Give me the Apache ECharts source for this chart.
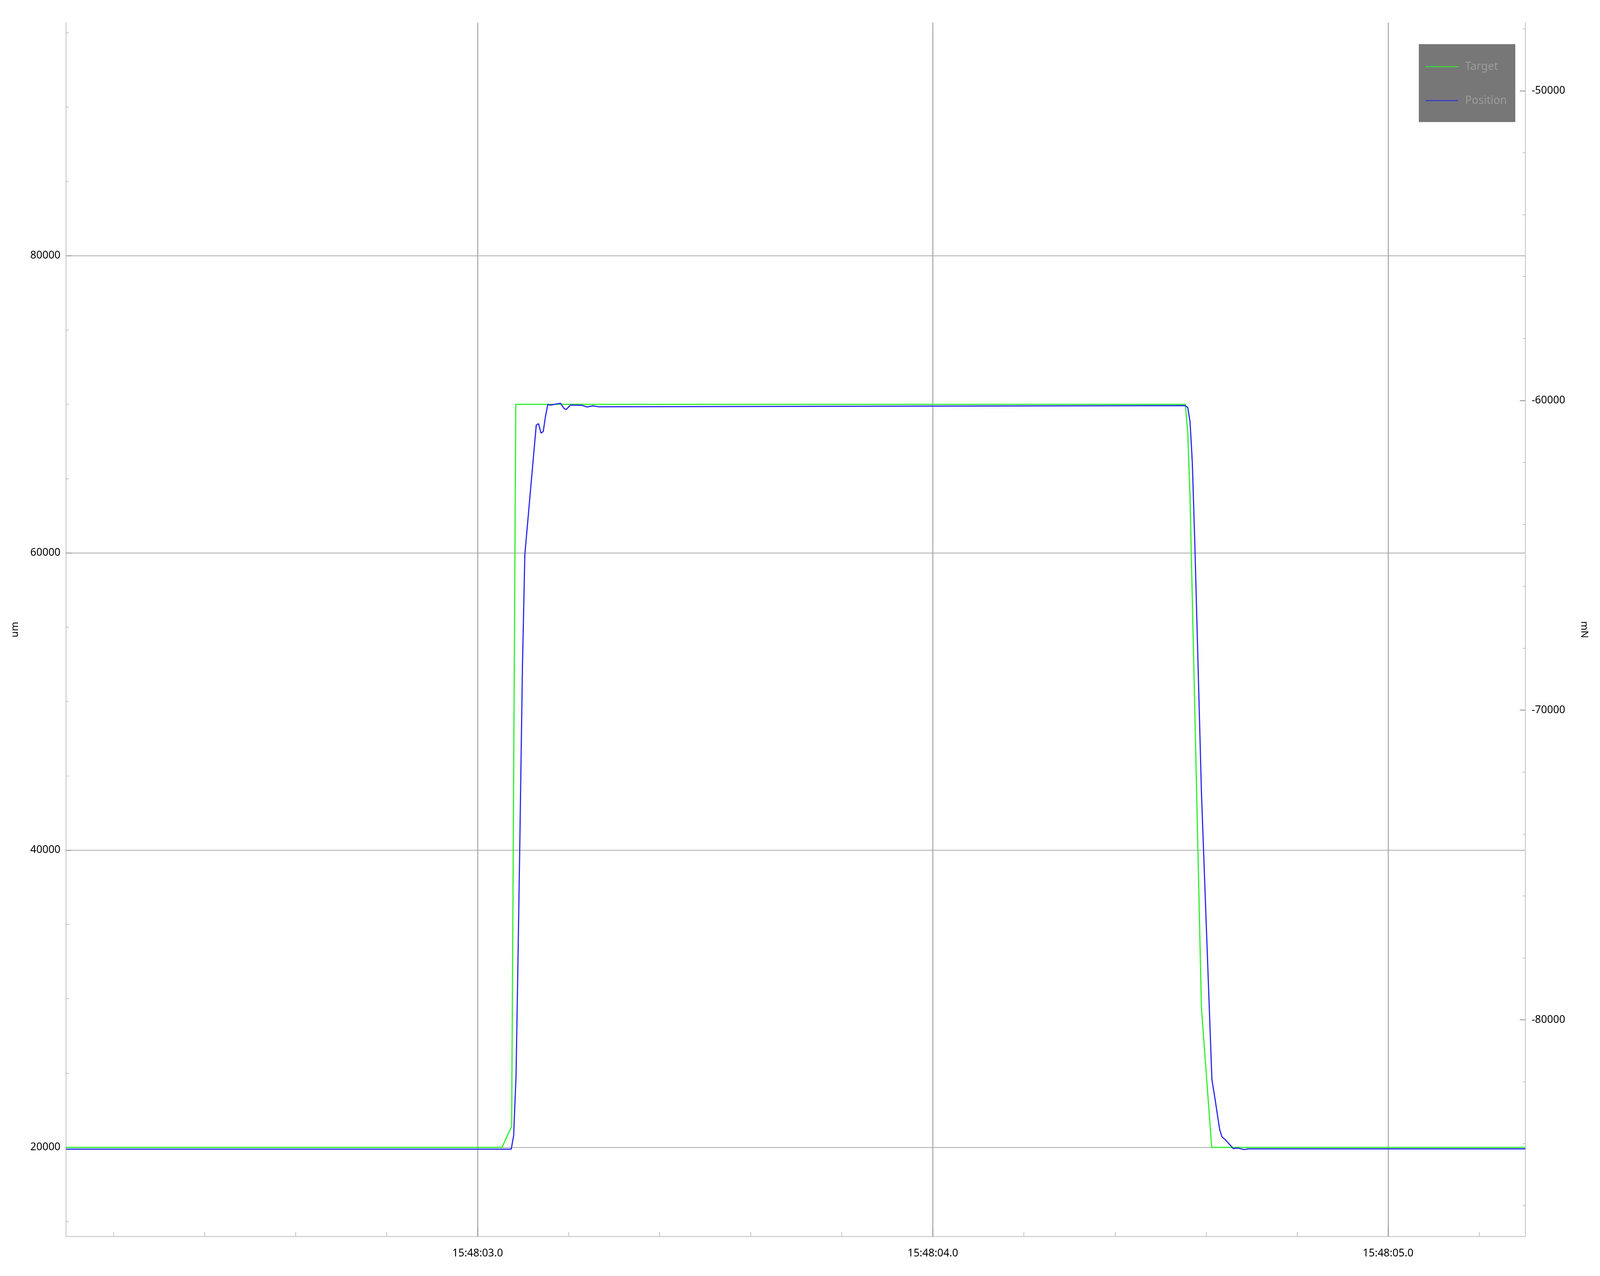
<!DOCTYPE html>
<html>
<head>
<meta charset="utf-8">
<script src="https://cdn.jsdelivr.net/npm/echarts@6/dist/echarts.min.js"></script>
<style>
html,body{margin:0;padding:0;background:#ffffff;overflow:hidden;}
#chart{width:100vw;height:100vh;}
</style>
</head>
<body>
<div id="chart"></div>
<script>
// ---- data (time = seconds after 15:48:00) ----
const targetTime  = [2.0957, 3.0536, 3.0747, 3.0838, 4.5545, 4.5600, 4.5650, 4.5900, 4.6125, 5.3016];
const targetValue = [20000, 20000, 21420, 70000, 70000, 68100, 63700, 29400, 20000, 20000];

const positionTime  = [2.0957, 3.0738, 3.0791, 3.0844, 3.0879, 3.0923, 3.0985, 3.1037, 3.1287, 3.1337,
                       3.1392, 3.1441, 3.1490, 3.1542, 3.1587, 3.1819, 3.1890, 3.1940, 3.2041, 3.2293,
                       3.2404, 3.2535, 3.2657, 4.5545, 4.5600, 4.5650, 4.5700, 4.5754, 4.5900, 4.6130,
                       4.6200, 4.6300, 4.6350, 4.6420, 4.6600, 4.6700, 4.6840, 4.6920, 5.3016];
const positionValue = [19880, 19880, 20800, 24900, 31270, 39760, 52480, 59900, 68590, 68700,
                       68060, 68170, 69180, 70000, 69940, 70070, 69750, 69640, 69950, 69930,
                       69820, 69900, 69830, 69910, 69780, 68830, 66070, 60710, 43890, 24570,
                       23230, 21210, 20710, 20530, 19920, 19950, 19850, 19900, 19900];

const seriesNames = ['Target', 'Position'];

// ---- axes ----
const xRange = [2.0957, 5.3016];
const xMajorTicks = [3, 4, 5];
const xTickLabels = ['15:48:03.0', '15:48:04.0', '15:48:05.0'];
const xMinorTicks = [2.2, 2.4, 2.6, 2.8, 3.2, 3.4, 3.6, 3.8, 4.2, 4.4, 4.6, 4.8, 5.2];

const leftRange = [14000, 95680];
const leftMajorTicks = [20000, 40000, 60000, 80000];
const leftMinorTicks = [15000, 25000, 30000, 35000, 45000, 50000, 55000, 65000, 70000, 75000, 85000, 90000, 95000];

const rightRange = [-87000, -47800];
const rightMajorTicks = [-80000, -70000, -60000, -50000];
const rightMinorTicks = [-86000, -84000, -82000, -78000, -76000, -74000, -72000, -68000, -66000, -64000,
                         -62000, -58000, -56000, -54000, -52000, -48000];

const leftName = 'um';
const rightName = 'mN';

// ---- build ----
const FONT = 'Noto Sans';
const zip = (a, b) => a.map((v, i) => [v, b[i]]);
const xLabel = v => {
  for (let i = 0; i < xMajorTicks.length; i++) if (Math.abs(xMajorTicks[i] - v) < 1e-6) return xTickLabels[i];
  return '';
};

const el = document.getElementById('chart');
const chart = echarts.init(el, null, {renderer: 'canvas'});
const W = chart.getWidth(), H = chart.getHeight();
// layout designed for a 6667 x 3267 frame, mapped onto the actual frame
const sx = W / 6667, sy = H / 3267, sf = Math.min(sx, sy);

const labelFs = 44 * sf, nameFs = 42 * sf, legendFs = 46 * sf;
const measure = (txt, fs) => {
  const c = document.createElement('canvas').getContext('2d');
  c.font = fs + 'px "' + FONT + '"';
  return c.measureText(txt).width;
};

const axisLine = {show: true, onZero: false, lineStyle: {color: '#cbcbcb', width: Math.max(2, 4 * sf)}};
const majorTickX = {show: true, inside: true, length: 23 * sy, lineStyle: {color: '#8e8e8e', width: Math.max(2, 3 * sf)}};
const minorTickX = {show: true, inside: true, length: 12 * sy, lineStyle: {color: '#b4b4b4', width: Math.max(1.5, 2 * sf)}};
const majorTickY = {show: true, inside: true, length: 23 * sx, lineStyle: {color: '#8e8e8e', width: Math.max(2, 3 * sf)}};
const minorTickY = {show: true, inside: true, length: 12 * sx, lineStyle: {color: '#b4b4b4', width: Math.max(1.5, 2 * sf)}};
const labelStyle = {color: '#000000', fontSize: labelFs, fontFamily: FONT};

// legend box geometry (reference: box 5912..6314 x 113..313, item centres at y 171 / 258)
const legTextH = legendFs * 1.0;
const legIconW = 136 * sx;
const legTextPad = Math.max(0, 29 * sx - 5);
const legPadL = 28 * sx;
const legBoxW = 402 * sx;
const legContentW = legIconW + 5 + legTextPad + Math.max(measure('Target', legendFs), measure('Position', legendFs));
const legPadR = Math.max(4, legBoxW - legPadL - legContentW);
const legPadT = Math.max(4, 58 * sy - legTextH / 2);
const legPadB = Math.max(4, 55 * sy - legTextH / 2);
const legGap = Math.max(4, 87 * sy - legTextH);
const lineW = 3;

chart.setOption({
  animation: false,
  backgroundColor: '#ffffff',
  grid: {left: 275 * sx, right: 311 * sx, top: 58 * sy, bottom: 101 * sy, containLabel: false, outerBoundsMode: 'none'},
  legend: {
    orient: 'vertical',
    left: 5912 * sx, top: 113 * sy,
    backgroundColor: '#777777',
    borderRadius: 0,
    padding: [legPadT, legPadR, legPadB, legPadL],
    itemWidth: legIconW, itemHeight: Math.max(2, 4 * sf), itemGap: legGap,
    icon: 'rect',
    selectedMode: false,
    data: seriesNames,
    textStyle: {color: '#9c9c9c', fontSize: legendFs, fontFamily: FONT, padding: [0, 0, 0, legTextPad]}
  },
  xAxis: [
    {
      type: 'value', position: 'bottom', min: xRange[0], max: xRange[1],
      axisLine: axisLine,
      axisTick: Object.assign({customValues: xMajorTicks}, majorTickX),
      axisLabel: Object.assign({customValues: xMajorTicks, formatter: xLabel, margin: 46 * sy - labelFs * 0.6}, labelStyle),
      splitLine: {show: true, lineStyle: {color: '#a3a3a3', width: Math.max(2, 4 * sf)}}
    },
    {
      type: 'value', position: 'bottom', min: xRange[0], max: xRange[1],
      axisLine: {show: false, onZero: false},
      axisTick: Object.assign({customValues: xMinorTicks}, minorTickX),
      axisLabel: {show: false},
      splitLine: {show: false}
    }
  ],
  yAxis: [
    {
      type: 'value', position: 'left', min: leftRange[0], max: leftRange[1],
      name: leftName, nameLocation: 'middle', nameRotate: 90, nameGap: 212 * sx - nameFs / 2,
      nameTextStyle: {color: '#000000', fontSize: nameFs, fontFamily: FONT},
      axisLine: axisLine,
      axisTick: Object.assign({customValues: leftMajorTicks}, majorTickY),
      axisLabel: Object.assign({customValues: leftMajorTicks, formatter: v => String(v), margin: 23 * sx}, labelStyle),
      splitLine: {show: true, lineStyle: {color: '#ababab', width: Math.max(2, 3 * sf)}}
    },
    {
      type: 'value', position: 'left', min: leftRange[0], max: leftRange[1],
      axisLine: {show: false, onZero: false},
      axisTick: Object.assign({customValues: leftMinorTicks}, minorTickY),
      axisLabel: {show: false},
      splitLine: {show: false}
    },
    {
      type: 'value', position: 'right', min: rightRange[0], max: rightRange[1],
      name: rightName, nameLocation: 'middle', nameRotate: -90, nameGap: 244 * sx - nameFs / 2,
      nameTextStyle: {color: '#000000', fontSize: nameFs, fontFamily: FONT},
      axisLine: axisLine,
      axisTick: Object.assign({customValues: rightMajorTicks}, majorTickY),
      axisLabel: Object.assign({customValues: rightMajorTicks, formatter: v => String(v), margin: 26 * sx}, labelStyle),
      splitLine: {show: false}
    },
    {
      type: 'value', position: 'right', min: rightRange[0], max: rightRange[1],
      axisLine: {show: false, onZero: false},
      axisTick: Object.assign({customValues: rightMinorTicks}, minorTickY),
      axisLabel: {show: false},
      splitLine: {show: false}
    }
  ],
  series: [
    {
      name: seriesNames[0], type: 'line', xAxisIndex: 0, yAxisIndex: 0,
      data: zip(targetTime, targetValue),
      symbol: 'none', showSymbol: false,
      lineStyle: {color: '#2cf02c', width: lineW},
      itemStyle: {color: '#2cf02c'},
      z: 3
    },
    {
      name: seriesNames[1], type: 'line', xAxisIndex: 0, yAxisIndex: 0,
      data: zip(positionTime, positionValue),
      symbol: 'none', showSymbol: false,
      lineStyle: {color: '#2a2aea', width: lineW},
      itemStyle: {color: '#2a2aea'},
      z: 4
    }
  ]
});
</script>
</body>
</html>
